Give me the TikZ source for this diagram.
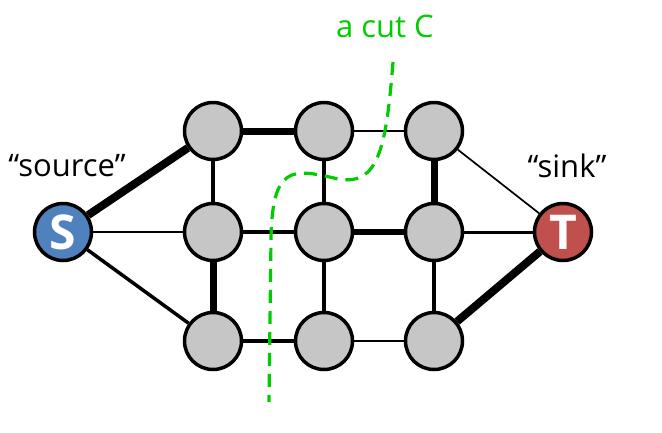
\documentclass[tikz,border=0pt]{standalone}
\usepackage{fontspec}
\setmainfont{Open Sans}
\definecolor{srcblue}{RGB}{79,129,189}
\definecolor{sinkred}{RGB}{192,80,77}
\definecolor{nodegray}{RGB}{198,198,198}
\definecolor{cutgreen}{RGB}{0,204,0}
\begin{document}
\begin{tikzpicture}[x=1pt,y=-1pt,
  vert/.style={circle,draw=black,line width=3.5pt,fill=nodegray,minimum size=57pt,inner sep=0pt},
  term/.style={vert,text=white,font=\fontsize{48}{48}\selectfont\bfseries},
  thin edge/.style={line width=1.7pt},
  mid edge/.style={line width=3.5pt},
  thick edge/.style={line width=8pt},
  lbl/.style={font=\fontsize{31}{31}\selectfont}]
\useasboundingbox (0,0) rectangle (662,432);
\node[term,fill=srcblue] (S) at (63,232) {S};
\node[term,fill=sinkred] (T) at (563,232) {T};
\node[vert] (a1) at (213,131) {};
\node[vert] (a2) at (324,131) {};
\node[vert] (a3) at (434,131) {};
\node[vert] (b1) at (213,232) {};
\node[vert] (b2) at (324,232) {};
\node[vert] (b3) at (434,232) {};
\node[vert] (c1) at (213,341) {};
\node[vert] (c2) at (324,341) {};
\node[vert] (c3) at (434,341) {};
% edges
\draw[thick edge] (S) -- (a1);
\draw[thin edge] (S) -- (b1);
\draw[mid edge] (S) -- (c1);
\draw[thick edge,line width=7pt] (a1) -- (a2);
\draw[thin edge] (a2) -- (a3);
\draw[thin edge] (a3) -- (T);
\draw[mid edge] (b1) -- (b2);
\draw[mid edge,line width=5.5pt] (b2) -- (b3);
\draw[mid edge,line width=3pt] (b3) -- (T);
\draw[mid edge] (c1) -- (c2);
\draw[mid edge,line width=2.3pt] (c2) -- (c3);
\draw[thick edge] (c3) -- (T);
\draw[mid edge] (a1) -- (b1);
\draw[thick edge,line width=7pt] (b1) -- (c1);
\draw[mid edge] (a2) -- (b2);
\draw[mid edge] (b2) -- (c2);
\draw[thick edge,line width=7pt] (a3) -- (b3);
\draw[mid edge] (b3) -- (c3);
% cut
\coordinate (cuttop) at (393,62);
\coordinate (cutbend) at (338,179);
\coordinate (cutbot) at (269,402);
\draw[cutgreen,line width=3.2pt,dash pattern=on 13pt off 8pt]
  (cuttop) .. controls (386,150) and (378,186) .. (cutbend)
  .. controls (292,168) and (272,165) .. (271,240) -- (cutbot);
% labels
\node[lbl,text=cutgreen] (cutlbl) at (385,26) {a cut C};
\node[lbl] (srclbl) at (67,166) {“source”};
\node[lbl] (sinklbl) at (567,166) {“sink”};
\end{tikzpicture}
\end{document}
